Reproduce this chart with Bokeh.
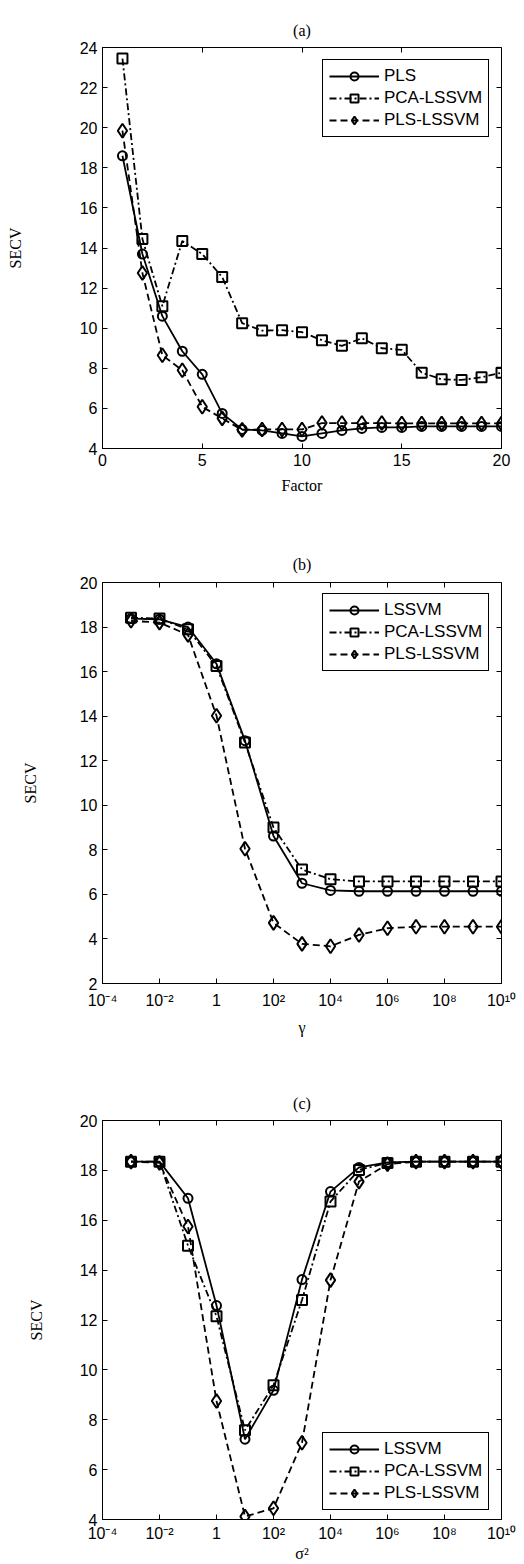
from bokeh.plotting import figure
from bokeh.models import (LinearAxis, FixedTicker, Legend, LegendItem, Range1d, Title,
                          CustomJSTickFormatter)
from bokeh.layouts import column
from bokeh.embed import file_html
from bokeh.resources import INLINE

# ---------------- data ----------------
factor = list(range(1, 21))
a_pls = [18.6, 13.7, 10.6, 8.85, 7.7, 5.75, 4.95, 4.9, 4.75, 4.6,
         4.75, 4.9, 5.0, 5.05, 5.05, 5.1, 5.1, 5.1, 5.1, 5.1]
a_pca = [23.45, 14.45, 11.1, 14.35, 13.7, 12.55, 10.25, 9.88, 9.9, 9.8,
         9.4, 9.12, 9.5, 9.0, 8.92, 7.78, 7.45, 7.42, 7.55, 7.78]
a_plsl = [19.85, 12.75, 8.65, 7.9, 6.08, 5.5, 4.93, 4.95, 4.95, 4.95,
          5.27, 5.27, 5.27, 5.27, 5.25, 5.25, 5.25, 5.25, 5.25, 5.25]

gamma = [1e-3, 1e-2, 1e-1, 1e0, 1e1, 1e2, 1e3, 1e4, 1e5, 1e6, 1e7, 1e8, 1e9, 1e10]
b_lssvm = [18.38, 18.35, 18.0, 16.35, 12.9, 8.62, 6.5, 6.18, 6.14, 6.14, 6.14, 6.14, 6.14, 6.14]
b_pca = [18.42, 18.38, 17.9, 16.25, 12.82, 9.0, 7.12, 6.68, 6.58, 6.58, 6.58, 6.58, 6.58, 6.58]
b_plsl = [18.28, 18.2, 17.65, 14.02, 8.05, 4.72, 3.78, 3.67, 4.18, 4.48, 4.55, 4.55, 4.55, 4.55]

sigma2 = [1e-3, 1e-2, 1e-1, 1e0, 1e1, 1e2, 1e3, 1e4, 1e5, 1e6, 1e7, 1e8, 1e9, 1e10]
c_lssvm = [18.35, 18.35, 16.88, 12.58, 7.22, 9.18, 13.62, 17.15, 18.12, 18.32, 18.35, 18.35, 18.35, 18.35]
c_pca = [18.35, 18.35, 14.98, 12.15, 7.58, 9.38, 12.8, 16.75, 18.02, 18.3, 18.35, 18.35, 18.35, 18.35]
c_plsl = [18.35, 18.3, 15.75, 8.75, 4.12, 4.45, 7.08, 13.6, 17.55, 18.25, 18.35, 18.35, 18.35, 18.35]

lin_xticks = [0, 5, 10, 15, 20]
a_yticks = [4, 6, 8, 10, 12, 14, 16, 18, 20, 22, 24]
b_yticks = [2, 4, 6, 8, 10, 12, 14, 16, 18, 20]
c_yticks = [4, 6, 8, 10, 12, 14, 16, 18, 20]
log_ticks = [1e-4, 1e-2, 1.0, 1e2, 1e4, 1e6, 1e8, 1e10]
log_labels = ["10\u207b\u2074", "10\u207b\u00b2", "1", "10\u00b2", "10\u2074", "10\u2076", "10\u2078", "10\u00b9\u2070"]

SANS = "Liberation Sans"
SERIF = "Liberation Serif"

log_fmt_code = """
let best = -1, bd = 1e9;
for (let i = 0; i < tvals.length; i++) {
  const d = Math.abs(Math.log10(tvals[i]) - Math.log10(tick));
  if (d < bd) { bd = d; best = i; }
}
return (best >= 0 && bd < 1e-6) ? tlabels[best] : "";
"""


def style_axis(ax):
    ax.major_tick_in = 5
    ax.major_tick_out = 0
    ax.minor_tick_in = 0
    ax.minor_tick_out = 0
    ax.minor_tick_line_color = None
    ax.axis_line_color = "black"
    ax.major_tick_line_color = "black"
    ax.major_label_text_color = "black"
    ax.major_label_text_font = SANS
    ax.major_label_text_font_size = "16px"
    ax.axis_label_text_font = SERIF
    ax.axis_label_text_font_style = "normal"
    ax.axis_label_text_font_size = "16px"
    ax.axis_label_text_color = "black"


def mirror_axis(ticks, loc):
    # tick marks only (MATLAB-style box ticks), pinned to the frame edge so it takes no border space
    ax = LinearAxis(ticker=FixedTicker(ticks=ticks), fixed_location=loc,
                    formatter=CustomJSTickFormatter(code="return ''"))
    style_axis(ax)
    ax.major_label_text_font_size = "1px"
    ax.major_label_standoff = 0
    return ax


def panel(title, xs, series, names, xlabel, xlog, xr, yr, yticks, geom, legend_loc):
    w, h, bl, br, bt, bb, ylab_standoff, xtick_standoff, xlab_standoff, title_standoff = geom
    p = figure(width=w, height=h, output_backend="svg", toolbar_location=None,
               x_axis_type="log" if xlog else "linear",
               x_range=Range1d(*xr), y_range=Range1d(*yr),
               min_border_left=bl, min_border_right=br, min_border_top=bt, min_border_bottom=bb)
    p.xgrid.visible = False
    p.ygrid.visible = False
    p.outline_line_color = "black"
    p.outline_line_width = 1
    p.background_fill_color = "white"
    p.border_fill_color = "white"

    xticks = log_ticks if xlog else lin_xticks
    p.xaxis.ticker = FixedTicker(ticks=xticks)
    p.yaxis.ticker = FixedTicker(ticks=yticks)
    for ax in p.xaxis + p.yaxis:
        style_axis(ax)
    if xlog:
        p.xaxis.formatter = CustomJSTickFormatter(args=dict(tvals=log_ticks, tlabels=log_labels),
                                                  code=log_fmt_code)
    p.xaxis.axis_label = xlabel
    p.yaxis.axis_label = "SECV"
    p.yaxis.axis_label_standoff = ylab_standoff
    p.yaxis.major_label_standoff = 5
    p.xaxis.major_label_standoff = xtick_standoff
    p.xaxis.axis_label_standoff = xlab_standoff

    p.add_layout(mirror_axis(xticks, yr[1]), "above")
    p.add_layout(mirror_axis(yticks, xr[1]), "right")

    t = Title(text=title, align="center", text_font=SERIF, text_font_size="16px",
              text_font_style="normal", text_color="black", standoff=title_standoff)
    p.add_layout(t, "above")

    styles = [("solid", "circle", 9), ("7 3 2 3", "square", 10), ("7 4", "diamond", 14)]
    items = []
    for ys, name, (dash, marker, size) in zip(series, names, styles):
        l = p.line(xs, ys, line_color="black", line_width=1.8, line_dash=dash)
        s = p.scatter(xs, ys, marker=marker, size=size, fill_color=None,
                      line_color="black", line_width=2)
        items.append(LegendItem(label=name, renderers=[l, s]))
    leg = Legend(items=items, location=legend_loc)
    leg.border_line_color = "black"
    leg.border_line_width = 1
    leg.border_line_alpha = 1
    leg.background_fill_color = "white"
    leg.background_fill_alpha = 1
    leg.label_text_font = SANS
    leg.label_text_font_size = "17px"
    leg.label_text_color = "black"
    leg.glyph_width = 50
    leg.glyph_height = 20
    leg.label_height = 20
    leg.label_standoff = 5
    leg.padding = 6
    leg.spacing = 2
    leg.margin = 0
    p.add_layout(leg)
    return p


pa = panel("(a)", factor, [a_pls, a_pca, a_plsl], ["PLS", "PCA-LSSVM", "PLS-LSSVM"], "Factor",
           False, (0, 20), (4, 24), a_yticks,
           (520, 520, 102, 12, 47, 72, 53, 5, 8, 18), (220, 311))
pb = panel("(b)", gamma, [b_lssvm, b_pca, b_plsl], ["LSSVM", "PCA-LSSVM", "PLS-LSSVM"], "\u03b3",
           True, (1e-4, 1e10), (2, 20), b_yticks,
           (520, 540, 95, 19, 62, 77, 38, 8, 7, 20), (220, 312))
pc = panel("(c)", sigma2, [c_lssvm, c_pca, c_plsl], ["LSSVM", "PCA-LSSVM", "PLS-LSSVM"], "\u03c3\u00b2",
           True, (1e-4, 1e10), (4, 20), c_yticks,
           (520, 504, 96, 17, 60, 42, 32, 5, 0, 18), (220, 9))

layout = column(pa, pb, pc, spacing=0)
open("out.html", "w").write(file_html(layout, INLINE))
